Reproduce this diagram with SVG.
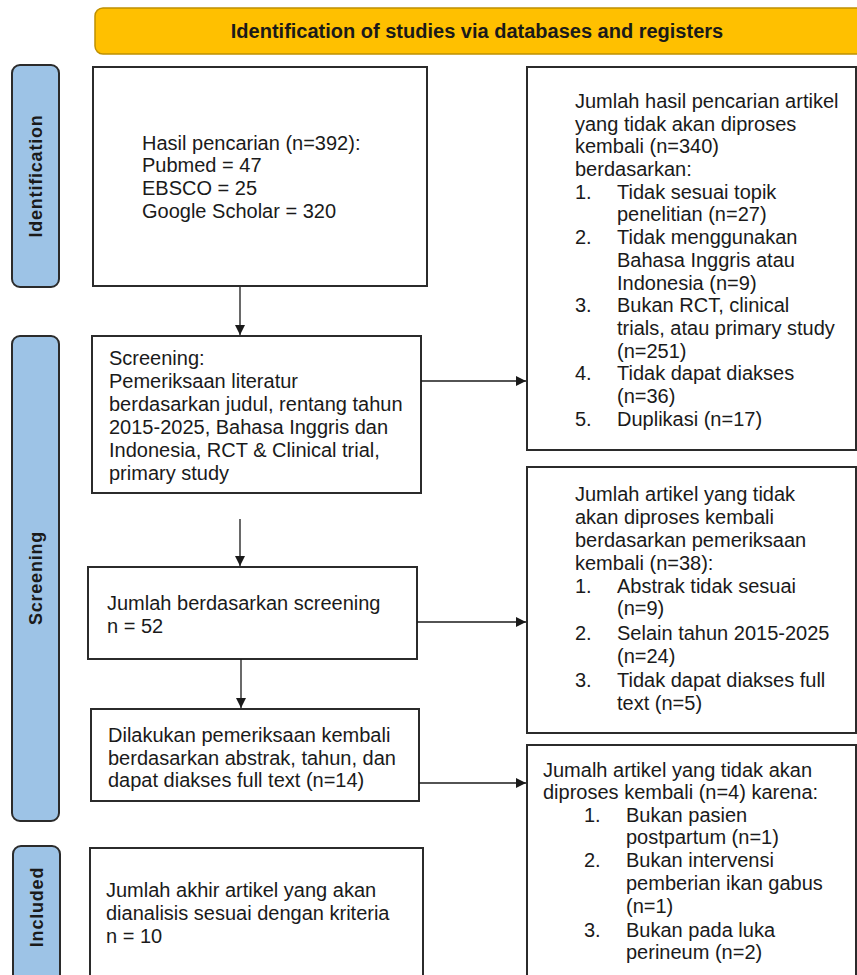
<svg xmlns="http://www.w3.org/2000/svg" width="857" height="975" viewBox="0 0 857 975">
<defs>
<style>
.box{fill:#fff;stroke:#2b2b2b;stroke-width:2}
.bar{fill:#9dc3e6;stroke:#2b2b2b;stroke-width:2}
.t{font-family:"Liberation Sans",Arial,sans-serif;font-size:20px;fill:#1a1a1a}
.lab{font-family:"Liberation Sans",Arial,sans-serif;font-size:18px;font-weight:bold;fill:#1a1a1a;letter-spacing:0.8px}
.hd{font-family:"Liberation Sans",Arial,sans-serif;font-size:20px;font-weight:bold;fill:#1a1a1a}
.ln{stroke:#1a1a1a;stroke-width:1.3;fill:none;marker-end:url(#ah)}
</style>
<marker id="ah" viewBox="0 0 10 10" refX="10" refY="5" markerWidth="10" markerHeight="10" markerUnits="userSpaceOnUse" orient="auto">
<path d="M0,0 L10,5 L0,10 Z" fill="#1a1a1a"/>
</marker>
</defs>
<rect width="857" height="975" fill="#fff"/>

<g id="header">
<rect x="95" y="8" width="780" height="46" rx="8" fill="#ffc000" stroke="#bf9000" stroke-width="1.5"/>
<text class="hd" x="477" y="38" text-anchor="middle">Identification of studies via databases and registers</text>
</g>

<g id="bar-identification">
<rect class="bar" x="12" y="65" width="47" height="222" rx="8"/>
<text class="lab" transform="translate(42,176) rotate(-90)" text-anchor="middle">Identification</text>
</g>
<g id="bar-screening">
<rect class="bar" x="12" y="336" width="47" height="485" rx="8"/>
<text class="lab" transform="translate(42,578) rotate(-90)" text-anchor="middle">Screening</text>
</g>
<g id="bar-included">
<rect class="bar" x="13" y="846" width="47" height="150" rx="8"/>
<text class="lab" transform="translate(43,907) rotate(-90)" text-anchor="middle">Included</text>
</g>

<g id="n-search">
<rect class="box" x="93" y="67" width="334" height="219"/>
<text class="t" x="142" y="150">Hasil pencarian (n=392):</text>
<text class="t" x="142" y="172">Pubmed = 47</text>
<text class="t" x="142" y="195">EBSCO = 25</text>
<text class="t" x="142" y="218">Google Scholar = 320</text>
</g>

<g id="n-excluded1">
<rect class="box" x="527" y="67" width="329" height="383"/>
<text class="t" x="575" y="108">Jumlah hasil pencarian artikel</text>
<text class="t" x="575" y="131">yang tidak akan diproses</text>
<text class="t" x="575" y="153">kembali (n=340)</text>
<text class="t" x="575" y="176">berdasarkan:</text>
<text class="t" x="575" y="199">1.</text><text class="t" x="617" y="199">Tidak sesuai topik</text>
<text class="t" x="617" y="221">penelitian (n=27)</text>
<text class="t" x="575" y="244">2.</text><text class="t" x="617" y="244">Tidak menggunakan</text>
<text class="t" x="617" y="267">Bahasa Inggris atau</text>
<text class="t" x="617" y="290">Indonesia (n=9)</text>
<text class="t" x="575" y="312">3.</text><text class="t" x="617" y="312">Bukan RCT, clinical</text>
<text class="t" x="617" y="335">trials, atau primary study</text>
<text class="t" x="617" y="358">(n=251)</text>
<text class="t" x="575" y="380">4.</text><text class="t" x="617" y="380">Tidak dapat diakses</text>
<text class="t" x="617" y="403">(n=36)</text>
<text class="t" x="575" y="426">5.</text><text class="t" x="617" y="426">Duplikasi (n=17)</text>
</g>

<g id="n-screening">
<rect class="box" x="92" y="336" width="329" height="157"/>
<text class="t" x="109" y="365">Screening:</text>
<text class="t" x="109" y="388">Pemeriksaan literatur</text>
<text class="t" x="109" y="411">berdasarkan judul, rentang tahun</text>
<text class="t" x="109" y="434">2015-2025, Bahasa Inggris dan</text>
<text class="t" x="109" y="457">Indonesia, RCT &amp; Clinical trial,</text>
<text class="t" x="109" y="480">primary study</text>
</g>

<g id="n-screened">
<rect class="box" x="88" y="567" width="329" height="92"/>
<text class="t" x="107" y="610">Jumlah berdasarkan screening</text>
<text class="t" x="107" y="633">n = 52</text>
</g>

<g id="n-excluded2">
<rect class="box" x="527" y="467" width="329" height="266"/>
<text class="t" x="575" y="501">Jumlah artikel yang tidak</text>
<text class="t" x="575" y="524">akan diproses kembali</text>
<text class="t" x="575" y="547">berdasarkan pemeriksaan</text>
<text class="t" x="575" y="570">kembali (n=38):</text>
<text class="t" x="575" y="593">1.</text><text class="t" x="617" y="593">Abstrak tidak sesuai</text>
<text class="t" x="617" y="615">(n=9)</text>
<text class="t" x="575" y="640">2.</text><text class="t" x="617" y="640">Selain tahun 2015-2025</text>
<text class="t" x="617" y="663">(n=24)</text>
<text class="t" x="575" y="687">3.</text><text class="t" x="617" y="687">Tidak dapat diakses full</text>
<text class="t" x="617" y="710">text (n=5)</text>
</g>

<g id="n-recheck">
<rect class="box" x="91" y="709" width="328" height="92"/>
<text class="t" x="108" y="742">Dilakukan pemeriksaan kembali</text>
<text class="t" x="108" y="765">berdasarkan abstrak, tahun, dan</text>
<text class="t" x="108" y="787">dapat diakses full text (n=14)</text>
</g>

<g id="n-excluded3">
<rect class="box" x="527" y="745" width="329" height="250"/>
<text class="t" x="543" y="777">Jumalh artikel yang tidak akan</text>
<text class="t" x="543" y="799">diproses kembali (n=4) karena:</text>
<text class="t" x="584" y="822">1.</text><text class="t" x="626" y="822">Bukan pasien</text>
<text class="t" x="626" y="844">postpartum (n=1)</text>
<text class="t" x="584" y="867">2.</text><text class="t" x="626" y="867">Bukan intervensi</text>
<text class="t" x="626" y="890">pemberian ikan gabus</text>
<text class="t" x="626" y="913">(n=1)</text>
<text class="t" x="584" y="937">3.</text><text class="t" x="626" y="937">Bukan pada luka</text>
<text class="t" x="626" y="959">perineum (n=2)</text>
</g>

<g id="n-included">
<rect class="box" x="90" y="848" width="333" height="150"/>
<text class="t" x="106" y="897">Jumlah akhir artikel yang akan</text>
<text class="t" x="106" y="920">dianalisis sesuai dengan kriteria</text>
<text class="t" x="106" y="943">n = 10</text>
</g>

<g id="connectors">
<line class="ln" x1="240" y1="287" x2="240" y2="335"/>
<line class="ln" x1="421" y1="381" x2="526" y2="381"/>
<line class="ln" x1="240" y1="519" x2="240" y2="566"/>
<line class="ln" x1="417" y1="622" x2="526" y2="622"/>
<line class="ln" x1="241" y1="659" x2="241" y2="708"/>
<line class="ln" x1="419" y1="783" x2="526" y2="783"/>
</g>
</svg>
